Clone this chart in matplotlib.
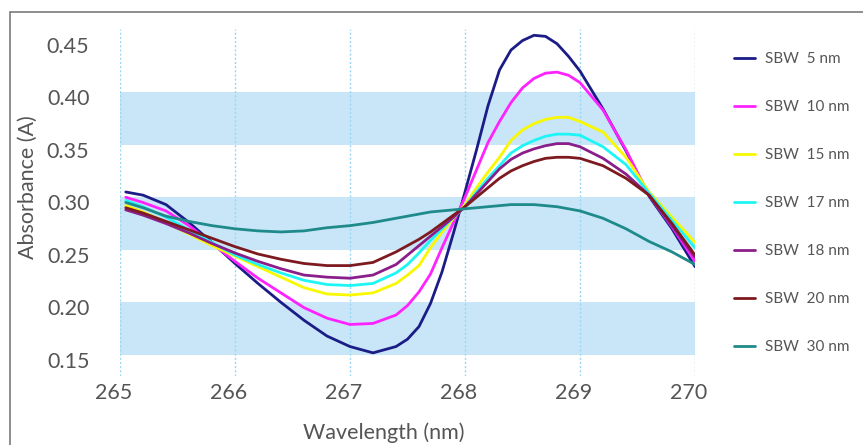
import numpy as np
import matplotlib
matplotlib.use('Agg')
import matplotlib.pyplot as plt
from matplotlib.transforms import ScaledTranslation
from matplotlib.patches import Rectangle

# -- data
wavelength = [265.05, 265.2, 265.4, 265.6, 265.8, 266.0, 266.2, 266.4, 266.6, 266.8,
              267.0, 267.2, 267.4, 267.5, 267.6, 267.7, 267.8, 267.9, 268.0, 268.1,
              268.2, 268.3, 268.4, 268.5, 268.6, 268.7, 268.8, 268.9, 269.0, 269.2,
              269.4, 269.6, 269.8, 270.0]

sbw_5 = [.305, .302, .293, .276, .257, .237, .218, .200, .183, .168,
         .158, .152, .158, .165, .177, .199, .229, .266, .305, .345,
         .387, .421, .440, .449, .454, .453, .446, .434, .420, .384,
         .344, .301, .270, .234]
sbw_10 = [.300, .295, .287, .273, .256, .239, .223, .209, .195, .185,
          .179, .180, .188, .197, .210, .227, .252, .276, .300, .326,
          .352, .372, .390, .404, .413, .418, .419, .416, .409, .383,
          .345, .302, .272, .239]
sbw_15 = [.292, .286, .276, .265, .254, .244, .234, .224, .214, .208,
          .207, .209, .218, .226, .235, .252, .267, .280, .293, .309,
          .324, .338, .354, .364, .370, .374, .376, .376, .372, .362,
          .338, .305, .281, .257]
sbw_17 = [.297, .291, .281, .269, .257, .245, .236, .228, .221, .217,
          .216, .218, .228, .236, .247, .259, .270, .281, .291, .305,
          .318, .330, .342, .349, .354, .358, .360, .360, .359, .348,
          .331, .304, .278, .252]
sbw_18 = [.288, .283, .275, .266, .256, .247, .239, .232, .226, .224,
          .223, .226, .236, .245, .254, .263, .272, .281, .291, .303,
          .315, .327, .336, .342, .346, .349, .351, .351, .348, .337,
          .322, .302, .273, .243]
sbw_20 = [.290, .285, .277, .269, .261, .253, .246, .241, .237, .235,
          .235, .238, .248, .254, .260, .267, .275, .283, .291, .300,
          .309, .318, .325, .330, .334, .337, .338, .338, .337, .330,
          .318, .302, .275, .245]
sbw_30 = [.295, .290, .282, .277, .273, .270, .268, .267, .268, .271,
          .273, .276, .280, .282, .284, .286, .287, .288, .289, .290,
          .291, .292, .293, .293, .293, .292, .291, .289, .287, .280,
          .270, .258, .248, .236]

series = [sbw_5, sbw_10, sbw_15, sbw_17, sbw_18, sbw_20, sbw_30]
labels = ["SBW  5 nm", "SBW  10 nm", "SBW  15 nm", "SBW  17 nm",
          "SBW  18 nm", "SBW  20 nm", "SBW  30 nm"]
colors = ['#1c1c87', '#ff22ff', '#f8f800', '#1ef5f5', '#8a1e8a', '#7d1a1f', '#1f8a8a']

x_ticks = [265, 266, 267, 268, 269, 270]
y_ticks = [0.15, 0.20, 0.25, 0.30, 0.35, 0.40, 0.45]
bands = [(0.15, 0.20), (0.25, 0.30), (0.35, 0.40)]

text_col = '#555555'
plt.rcParams['font.family'] = ['Lato', 'DejaVu Sans']

W, H = 863, 445
fig = plt.figure(figsize=(W / 100.0, H / 100.0), dpi=100)
ax = fig.add_axes([120.0 / W, 1 - 376.0 / H, 575.0 / W, 347.0 / H])

# grey frame round the chart
fig.add_artist(Rectangle((10.0 / W, -0.1), 1.2, 1.1 - 12.0 / H, transform=fig.transFigure,
                         fill=False, edgecolor='#7a7a7a', lw=1.2))

for lo, hi in bands:
    ax.axhspan(lo, hi, color='#c8e6f8', lw=0, zorder=0)
for xv in x_ticks:
    ax.axvline(xv, color='#9ad6f2', lw=1.0, linestyle=(0, (1.5, 1.5)), zorder=1)

for i in range(len(series)):
    ax.plot(wavelength, series[i], color=colors[i], lw=2.0, label=labels[i],
            solid_capstyle='round', solid_joinstyle='round', zorder=3)

ax.set_xlim(265, 270)
ax.set_ylim(0.13, 0.46)
ax.set_xticks(x_ticks)
ax.set_yticks(y_ticks)
ax.set_yticklabels(["%.2f" % v for v in y_ticks])
ax.tick_params(length=0, labelsize=15.5, labelcolor=text_col)
ax.tick_params(axis='x', pad=5)
ax.tick_params(axis='y', pad=22)
for s in ax.spines.values():
    s.set_visible(False)

# labels in the reference sit a little off their ticks
for lab in ax.get_xticklabels():
    lab.set_transform(lab.get_transform() + ScaledTranslation(-6 / 100.0, 0, fig.dpi_scale_trans))
for lab in ax.get_yticklabels():
    lab.set_transform(lab.get_transform() + ScaledTranslation(0, -5 / 100.0, fig.dpi_scale_trans))

ax.set_xlabel("Wavelength (nm)", fontsize=15.5, color=text_col)
ax.xaxis.set_label_coords((384 - 120) / 575.0, -(422 - 376) / 347.0)
ax.set_ylabel("Absorbance (A)", fontsize=15.5, color=text_col)
ax.yaxis.set_label_coords(-(120 - 38) / 575.0, (376 - 187) / 347.0)

leg = ax.legend(loc='upper left', bbox_to_anchor=(734.0 / W, 1 - 52.0 / H),
                bbox_transform=fig.transFigure, frameon=False, fontsize=11,
                handlelength=1.4, handletextpad=0.65, labelspacing=2.23,
                borderpad=0, borderaxespad=0)
for t in leg.get_texts():
    t.set_color(text_col)
for l in leg.get_lines():
    l.set_linewidth(2.0)

plt.savefig('out.png', dpi=100)
